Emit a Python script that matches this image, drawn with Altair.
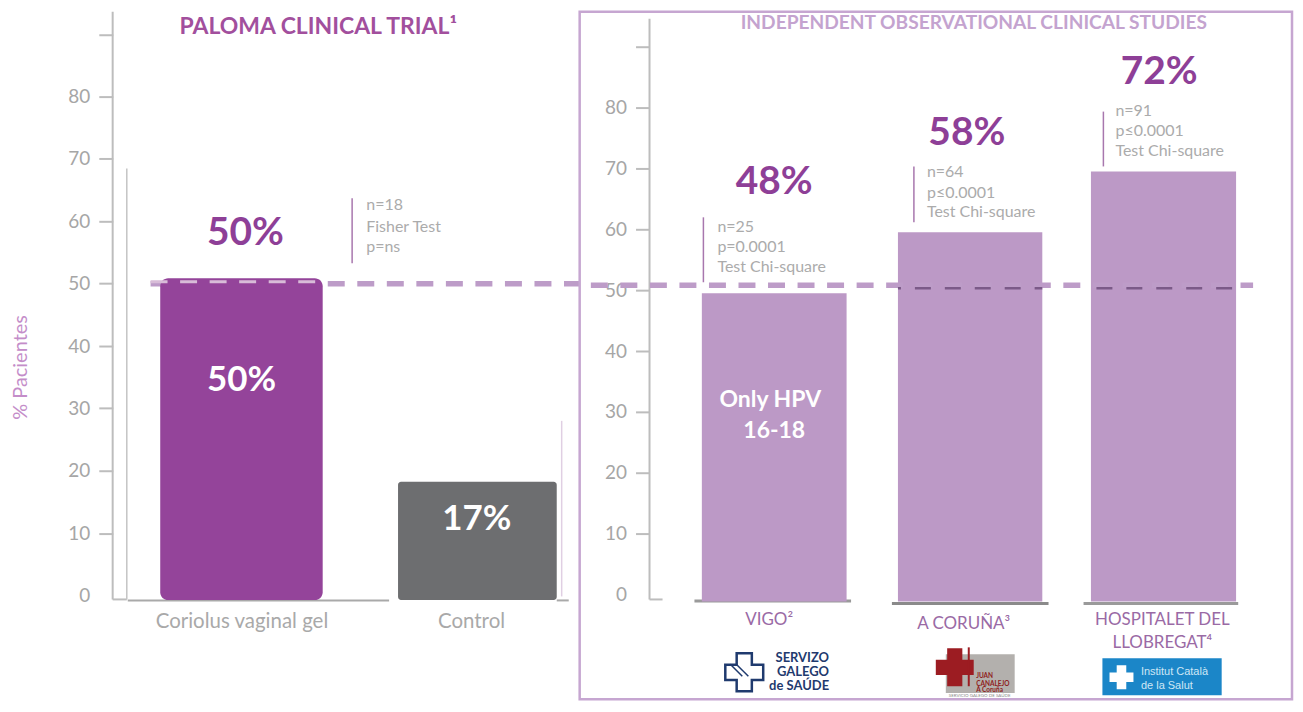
import altair as alt
import pandas as pd

# ---------- values (axis units) ----------
left_categories = ["Coriolus vaginal gel", "Control"]
left_x0 = [-0.345, 0.665]
left_x1 = [0.345, 1.339]
left_top = [50.88, 18.24]
left_base = -0.75
left_ticks = [0, 10, 20, 30, 40, 50, 60, 70, 80, 90]

right_categories = ["VIGO", "A CORUÑA", "HOSPITALET DEL LLOBREGAT"]
right_x0 = [-0.372, 0.636, 1.628]
right_x1 = [0.372, 1.378, 2.374]
right_top = [49.5, 59.5, 69.5]
right_base = -1.15
right_ticks = [0, 10, 20, 30, 40, 50, 60, 70, 80, 90]

PURPLE = "#94449a"
LILAC = "#bc99c6"
GREY_BAR = "#6d6e70"
BIG = "#8e3f97"
STAT = "#ababab"
AXIS = "#bdbdbd"
DASH = "#bd9cc8"
NAVY = "#1f3a6e"
FONT = "Lato"

XL = alt.Scale(domain=[-0.9873, 1.4364], nice=False, zero=False)
YL = alt.Scale(domain=[-16.64, 93.6], nice=False, zero=False)
XR = alt.Scale(domain=[-1.0, 2.6615], nice=False, zero=False)
YR = alt.Scale(domain=[-17.21, 95.74], nice=False, zero=False)


def y_axis(ticks, offset, title=None, **kw):
    return alt.Axis(
        values=ticks, offset=offset, domain=False, grid=False,
        tickSize=14, tickWidth=2, tickColor=AXIS,
        tickOpacity={"condition": {"test": "datum.value == 0", "value": 0}, "value": 1},
        labelExpr="datum.value == 90 ? '' : datum.label",
        labelFont=FONT, labelFontSize=19, labelColor="#a6a6a6", labelPadding=9,
        title=title, **kw
    )


def make(xs, ys, xaxis, yaxis):
    def X():
        return alt.X("x:Q", scale=xs, axis=xaxis, title=None)

    def Y():
        return alt.Y("y:Q", scale=ys, axis=yaxis, title=yaxis.title if yaxis else None)

    def text(rows, size, color, weight="normal", align="center", font=FONT, **kw):
        df = pd.DataFrame(rows, columns=["x", "y", "t"])
        return alt.Chart(df).mark_text(
            fontSize=size, color=color, fontWeight=weight, align=align,
            baseline="middle", font=font, **kw
        ).encode(x=X(), y=Y(), text="t:N")

    def rule(x, x2, y, y2, color, width, dash=None, offset=None):
        mk = dict(color=color, strokeWidth=width)
        if dash:
            mk["strokeDash"] = dash
        if offset:
            mk["strokeDashOffset"] = offset
        df = pd.DataFrame({"x": [x], "x2": [x2], "y": [y], "y2": [y2]})
        enc = dict(x=X(), y=Y())
        if x2 != x:
            enc["x2"] = alt.X2("x2:Q")
        if y2 != y:
            enc["y2"] = alt.Y2("y2:Q")
        return alt.Chart(df).mark_rule(**mk).encode(**enc)

    def rect(x0, x1, y0, y1, color, radius=0):
        df = pd.DataFrame({"x": x0, "x2": x1, "y": y0, "y2": y1})
        mk = dict(color=color)
        if radius:
            mk["cornerRadius"] = radius
        return alt.Chart(df).mark_rect(**mk).encode(
            x=X(), x2=alt.X2("x2:Q"), y=Y(), y2=alt.Y2("y2:Q")
        )

    def sym(x, y, size, color, filled=True, width=0):
        df = pd.DataFrame({"x": [x], "y": [y]})
        mk = dict(shape="cross", size=size, color=color, filled=filled, opacity=1)
        if width:
            mk["strokeWidth"] = width
        return alt.Chart(df).mark_point(**mk).encode(x=X(), y=Y())

    return text, rule, rect, sym


# ---------- left panel ----------
left_xaxis = alt.Axis(
    values=[0, 0.975], offset=-99, domain=False, grid=False, ticks=False,
    labelExpr="datum.value == 0 ? '%s' : '%s'" % tuple(left_categories),
    labelFont=FONT, labelFontSize=20.5, labelColor="#a9a9a9", labelPadding=11, title=None)
left_yaxis = y_axis(left_ticks, -104, "% Pacientes", titleFont=FONT, titleFontSize=20,
                    titleFontWeight="normal", titleColor="#c48dc9", titleX=-82, titleY=356)
text, rule, rect, sym = make(XL, YL, left_xaxis, left_yaxis)

left = alt.layer(
    rule(-0.547, -0.547, 93.6, -0.64, AXIS, 2),
    rule(-0.547, -0.487, -0.64, -0.64, AXIS, 2),
    rule(-0.487, -0.487, 68.48, -0.64, "#c4c4c4", 1.5),
    rule(-0.483, 0.627, -0.8, -0.8, "#a9a9a9", 2),
    rule(1.339, 1.39, -0.8, -0.8, "#a9a9a9", 2),
    rule(1.36, 1.36, 28.0, -0.16, "#e0cfe3", 1.5),
    rule(-0.386, 1.4364, 50.0, 50.0, DASH, 5.5, dash=[17, 12.6]),
    rect([left_x0[0]], [left_x1[0]], [left_base], [left_top[0]], PURPLE, 8),
    rect([left_x0[1]], [left_x1[1]], [left_base], [left_top[1]], GREY_BAR, 3),
    rule(-0.386, 0.345, 50.3, 50.3, "#d8bcd8", 3, dash=[17, 12.6]),
    text([(0.326, 91.2, "PALOMA CLINICAL TRIAL¹")], 23, "#a24f9d", "bold"),
    text([(0.017, 58.08, "50%")], 39, BIG, "bold"),
    text([(0.0, 34.56, "50%"), (1.0, 12.32, "17%")], 35, "white", "bold"),
    rule(0.47, 0.47, 63.68, 53.28, "#a877ae", 1.5),
    text([(0.53, 62.56, "n=18"), (0.53, 59.04, "Fisher Test"), (0.53, 55.84, "p=ns")],
         16, STAT, align="left"),
).properties(width=572, height=689, view=alt.ViewConfig(stroke="transparent"))

# ---------- right panel ----------
text, rule, rect, sym = make(XR, YR, None, y_axis(right_ticks, -70))
right = alt.layer(
    rule(-0.641, -0.641, 94.59, -0.82, AXIS, 2),
    rule(-0.641, -0.574, -0.82, -0.82, AXIS, 2),
    rule(-0.41, 0.395, -1.07, -1.07, "#9a9a9a", 3),
    rule(0.605, 1.41, -1.48, -1.48, "#8a8a8a", 3),
    rule(1.59, 2.385, -1.48, -1.48, "#9a9a9a", 3),
    rect(right_x0, right_x1, [right_base] * 3, right_top, LILAC),
    rule(-1.0, 2.4615, 50.8, 50.8, DASH, 5.5, dash=[17, 12.6], offset=18.4),
    rule(0.636, 1.378, 50.33, 50.33, "#7b5a88", 2.5, dash=[16, 14], offset=13),
    rule(1.628, 2.374, 50.33, 50.33, "#7b5a88", 2.5, dash=[16, 14], offset=24.5),
    text([(1.026, 93.9, "INDEPENDENT OBSERVATIONAL CLINICAL STUDIES")], 19.2, "#c4a3cf", "bold"),
    text([(0.0, 67.7, "48%"), (0.99, 75.9, "58%"), (1.979, 85.9, "72%")], 39, BIG, "bold"),
    rule(-0.364, -0.364, 61.97, 51.3, "#a877ae", 1.5),
    rule(0.718, 0.718, 70.33, 61.15, "#a877ae", 1.5),
    rule(1.692, 1.692, 79.34, 70.33, "#a877ae", 1.5),
    text([(-0.292, 60.33, "n=25"), (-0.292, 57.05, "p=0.0001"), (-0.292, 53.77, "Test Chi-square"),
          (0.785, 69.34, "n=64"), (0.785, 65.9, "p≤0.0001"), (0.785, 62.79, "Test Chi-square"),
          (1.754, 79.5, "n=91"), (1.754, 76.07, "p≤0.0001"), (1.754, 72.79, "Test Chi-square")],
         16, STAT, align="left"),
    text([(-0.02, 31.97, "Only HPV"), (0.0, 26.89, "16-18")], 23, "white", "bold"),
    text([(-0.026, -4.26, "VIGO²"), (0.974, -4.92, "A CORUÑA³"),
          (1.995, -4.26, "HOSPITALET DEL"), (1.995, -8.03, "LLOBREGAT⁴")], 17, "#9a6aa5"),
    # Servizo Galego de Saúde logo
    sym(-0.154, -12.79, 1444, NAVY, filled=False, width=2.5),
    rule(-0.226, -0.164, -11.48, -13.44, NAVY, 1.5),
    rule(-0.195, -0.133, -11.48, -13.44, NAVY, 1.5),
    text([(0.282, -10.49, "SERVIZO"), (0.282, -12.79, "GALEGO"), (0.282, -15.08, "de SAÚDE")],
         13, NAVY, "bold", align="right"),
    # Juan Canalejo logo
    rect([0.882], [1.236], [-9.84], [-16.2], "#b3b0ad"),
    sym(0.928, -11.97, 1444, "#9c1c22"),
    rule(1.0, 1.0, -8.69, -15.08, "#9c1c22", 2),
    text([(1.038, -13.44, "JUAN"), (1.038, -14.75, "CANALEJO"), (1.038, -15.74, "A Coruña")],
         6.5, "#8f1c20", "bold", align="left"),
    text([(1.056, -16.7, "SERVICIO GALEGO DE SAÚDE")], 4.5, "#888888"),
    # Institut Català de la Salut logo
    rect([1.687], [2.3], [-10.49], [-16.56], "#1b86c8"),
    sym(1.785, -13.6, 576, "white"),
    text([(1.885, -12.79, "Institut Català"), (1.885, -15.08, "de la Salut")],
         11, "#cfe6f5", align="left", font="Liberation Sans"),
).properties(width=714, height=689, view=alt.ViewConfig(stroke="#c6a6d1", strokeWidth=2.5))

chart = alt.hconcat(left, right, spacing=0, bounds="flush").properties(
    padding={"left": 0, "top": 1, "right": 1, "bottom": 0}, background="white"
)
chart.save("out.html", embed_options={"renderer": "svg", "actions": False})
